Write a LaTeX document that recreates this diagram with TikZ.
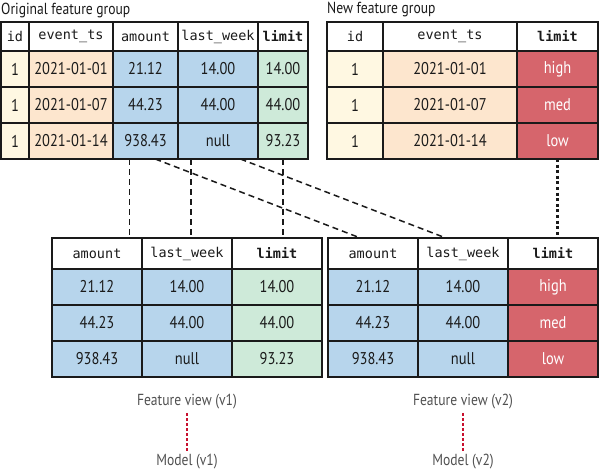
\documentclass[tikz,border=0pt]{standalone}
\usepackage{fontspec}
\setmainfont{PT Sans}[FakeStretch=0.85]
\setmonofont{DejaVu Sans Mono}
\usetikzlibrary{calc}
\definecolor{ink}{HTML}{1A1A1A}
\definecolor{cream}{HTML}{FFF8E2}
\definecolor{peach}{HTML}{FDE6CE}
\definecolor{sky}{HTML}{B7D5EC}
\definecolor{mint}{HTML}{CEEAD9}
\definecolor{rose}{HTML}{D6656C}
\definecolor{grey}{HTML}{505050}
\definecolor{red}{HTML}{C8102E}

\begin{document}
\begin{tikzpicture}[x=1pt,y=-1pt,font=\fontsize{17}{19}\selectfont]
\tikzset{
  cell/.style={draw=ink,line width=1.3pt,outer sep=0pt,inner sep=0pt,anchor=north west,minimum height=36},
  head/.style={cell,fill=white,text=ink,font=\ttfamily\fontsize{13.5}{16}\selectfont,minimum height=29},
  title/.style={anchor=west,inner sep=0pt,font=\fontsize{16}{18}\selectfont,text=ink},
  note/.style={text=grey,font=\fontsize{16}{18}\selectfont},
  link/.style={draw=ink,line width=1.5pt,dash pattern=on 6pt off 4pt},
  tie/.style={draw=ink,line width=2.6pt,dash pattern=on 3pt off 2.6pt},
  trace/.style={draw=red,line width=2.2pt,dash pattern=on 3pt off 2pt}
}
\useasboundingbox (0,0) rectangle (600,472);

% original feature group
\node[title] (og-title) at (1,10) {Original feature group};
\foreach \k/\x/\w/\bg/\tx/\hd/\ra/\rb/\rc in {
  id/1/28/cream/ink/id/1/1/1,
  ts/29/84/peach/ink/event\_ts/2021-01-01/2021-01-07/2021-01-14,
  amt/113/65/sky/ink/amount/21.12/44.23/938.43,
  lw/178/80/sky/ink/last\_week/14.00/44.00/null,
  lim/258/50/mint/ink/\textbf{limit}/14.00/44.00/93.23}{
  \node[head,minimum width=\w] (og-\k-h) at (\x,22) {\hd};
  \node[cell,fill=\bg,text=\tx,minimum width=\w] (og-\k-1) at (\x,51) {\ra};
  \node[cell,fill=\bg,text=\tx,minimum width=\w] (og-\k-2) at (\x,87) {\rb};
  \node[cell,fill=\bg,text=\tx,minimum width=\w] (og-\k-3) at (\x,123) {\rc};
}

% new feature group
\node[title] (ng-title) at (327,10) {New feature group};
\foreach \k/\x/\w/\bg/\tx/\hd/\ra/\rb/\rc in {
  id/327/56/cream/ink/id/1/1/1,
  ts/383/134/peach/ink/event\_ts/2021-01-01/2021-01-07/2021-01-14,
  lim/517/81/rose/white/\textbf{limit}/high/med/low}{
  \node[head,minimum width=\w] (ng-\k-h) at (\x,22) {\hd};
  \node[cell,fill=\bg,text=\tx,minimum width=\w] (ng-\k-1) at (\x,51) {\ra};
  \node[cell,fill=\bg,text=\tx,minimum width=\w] (ng-\k-2) at (\x,87) {\rb};
  \node[cell,fill=\bg,text=\tx,minimum width=\w] (ng-\k-3) at (\x,123) {\rc};
}

% feature views
\foreach \v/\x/\bg/\tx/\ra/\rb/\rc in {
  fv1/232/mint/ink/14.00/44.00/93.23,
  fv2/508/rose/white/high/med/low}{
  \foreach \k/\dx/\fc/\fd/\hd/\sa/\sb/\sc in {
    amt/-180/sky/ink/amount/21.12/44.23/938.43,
    lw/-90/sky/ink/last\_week/14.00/44.00/null}{
    \node[head,minimum width=90,minimum height=31] (\v-\k-h) at (\x+\dx,238) {\hd};
    \node[cell,fill=\fc,text=\fd,minimum width=90] (\v-\k-1) at (\x+\dx,269) {\sa};
    \node[cell,fill=\fc,text=\fd,minimum width=90] (\v-\k-2) at (\x+\dx,305) {\sb};
    \node[cell,fill=\fc,text=\fd,minimum width=90] (\v-\k-3) at (\x+\dx,341) {\sc};
  }
  \node[head,minimum width=90,minimum height=31] (\v-lim-h) at (\x,238) {\textbf{limit}};
  \node[cell,fill=\bg,text=\tx,minimum width=90] (\v-lim-1) at (\x,269) {\ra};
  \node[cell,fill=\bg,text=\tx,minimum width=90] (\v-lim-2) at (\x,305) {\rb};
  \node[cell,fill=\bg,text=\tx,minimum width=90] (\v-lim-3) at (\x,341) {\rc};
}

% column links
\coordinate (a1) at ($(og-amt-3.south west)!.25!(og-amt-3.south east)$);
\coordinate (a2) at ($(og-amt-3.south west)!.65!(og-amt-3.south east)$);
\coordinate (l1) at ($(og-lw-3.south west)!.16!(og-lw-3.south east)$);
\coordinate (l2) at ($(og-lw-3.south west)!.78!(og-lw-3.south east)$);
\coordinate (b1) at ($(fv2-amt-h.north west)!.36!(fv2-amt-h.north east)$);
\coordinate (b2) at ($(fv2-lw-h.north west)!.31!(fv2-lw-h.north east)$);
\draw[link] (a1) -- (a1 |- fv1-amt-h.north);
\draw[link] (l1) -- (l1 |- fv1-lw-h.north);
\draw[link] (og-lim-3.south) -- (og-lim-3.south |- fv1-lim-h.north);
\draw[link] (a2) -- (b1);
\draw[link] (l2) -- (b2);
\draw[tie] (ng-lim-3.south) -- (ng-lim-3.south |- fv2-lim-h.north);

% models
\node[note] (fv1) at (187,402) {Feature view (v1)};
\node[note] (m1) at (187,462) {Model (v1)};
\node[note] (fv2) at (463,402) {Feature view (v2)};
\node[note] (m2) at (463,462) {Model (v2)};
\draw[trace] (fv1) -- (m1);
\draw[trace] (fv2) -- (m2);
\end{tikzpicture}
\end{document}
